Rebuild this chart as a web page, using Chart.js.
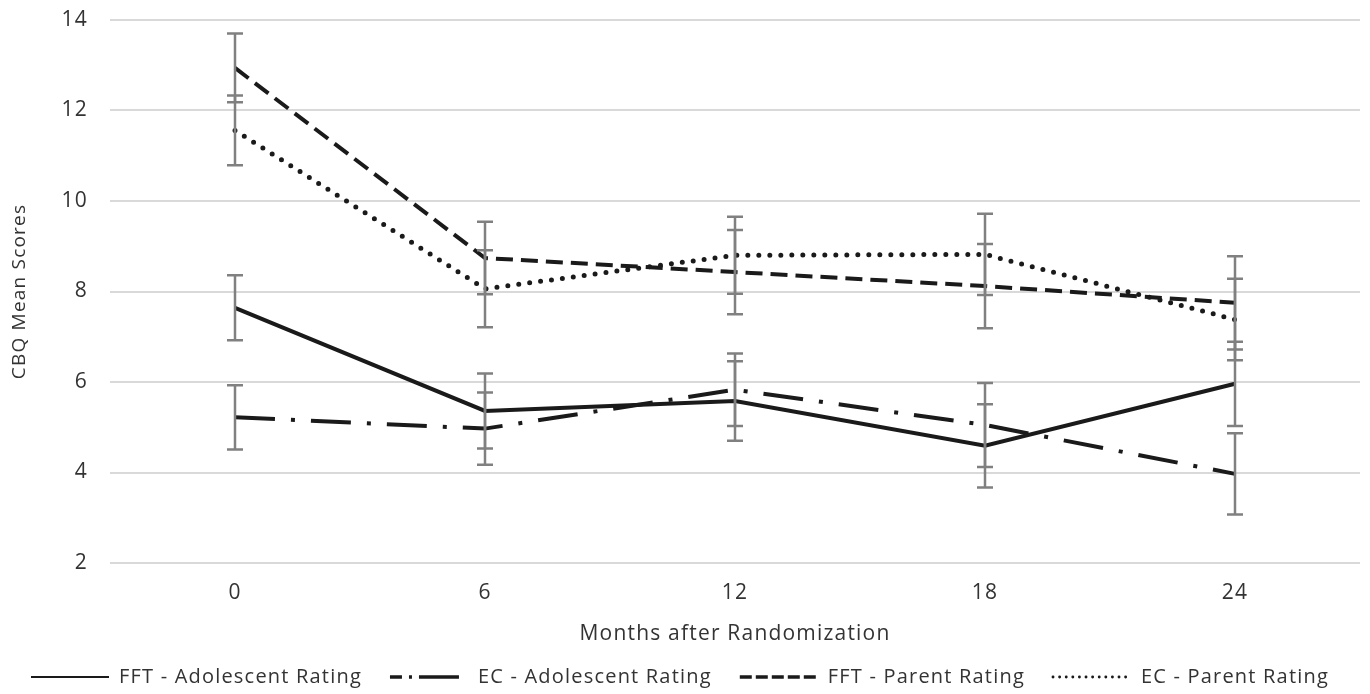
<!DOCTYPE html>
<html>
<head>
<meta charset="utf-8">
<script src="https://cdn.jsdelivr.net/npm/chart.js@4"></script>
<style>
  html, body { margin: 0; padding: 0; background: #fff; }
  #wrap { width: 1370px; height: 694px; }
</style>
</head>
<body>
<div id="wrap"><canvas id="cbqChart" width="1370" height="694"></canvas></div>
<script>
// months after randomization
var months = ['0', '6', '12', '18', '24'];

// mean scores
var fftAdol = [7.64, 5.36, 5.58, 4.59, 5.96];
var ecAdol = [5.22, 4.97, 5.83, 5.05, 3.97];
var fftParent = [12.94, 8.74, 8.43, 8.12, 7.75];
var ecParent = [11.56, 8.06, 8.80, 8.82, 7.38];

// error bar half heights
var fftAdolErr = [0.72, 0.83, 0.88, 0.92, 0.93];
var ecAdolErr = [0.71, 0.80, 0.80, 0.93, 0.90];
var fftParentErr = [0.76, 0.80, 0.93, 0.93, 1.03];
var ecParentErr = [0.77, 0.85, 0.85, 0.90, 0.90];

var yTicks = [2, 4, 6, 8, 10, 12, 14];

var textCol = '#333333';
var fontFam = '"Open Sans", "Noto Sans", sans-serif';

// the original lettering is widely spaced, canvas loses this on resize so set it every time
var spacing = {
  id: 'spacing',
  beforeLayout: function(chart) { chart.ctx.letterSpacing = '1.2px'; },
  beforeDraw: function(chart) { chart.ctx.letterSpacing = '1.2px'; }
};

// draws the grey whiskers on every point
var errorBars = {
  id: 'errorBars',
  afterDatasetsDraw: function(chart) {
    var ctx = chart.ctx;
    var yScale = chart.scales.y;
    ctx.save();
    ctx.strokeStyle = '#808080';
    ctx.lineWidth = 2.5;
    ctx.setLineDash([]);
    chart.data.datasets.forEach(function(ds, i) {
      var meta = chart.getDatasetMeta(i);
      meta.data.forEach(function(pt, j) {
        var v = ds.data[j];
        var e = ds.errs[j];
        var top = yScale.getPixelForValue(v + e);
        var bot = yScale.getPixelForValue(v - e);
        ctx.beginPath();
        ctx.moveTo(pt.x, top);
        ctx.lineTo(pt.x, bot);
        ctx.moveTo(pt.x - 8, top);
        ctx.lineTo(pt.x + 8, top);
        ctx.moveTo(pt.x - 8, bot);
        ctx.lineTo(pt.x + 8, bot);
        ctx.stroke();
      });
    });
    ctx.restore();
  }
};

var ctx = document.getElementById('cbqChart').getContext('2d');
var chart = new Chart(ctx, {
  type: 'line',
  data: {
    labels: months,
    datasets: [
      {
        label: 'FFT - Adolescent Rating',
        data: fftAdol,
        errs: fftAdolErr,
        borderColor: '#1a1a1a',
        borderWidth: 4,
        borderDash: [],
        pointRadius: 0
      },
      {
        label: 'EC - Adolescent Rating',
        data: ecAdol,
        errs: ecAdolErr,
        borderColor: '#1a1a1a',
        borderWidth: 4,
        borderDash: [40, 16, 4, 16],
        pointRadius: 0
      },
      {
        label: 'FFT - Parent Rating',
        data: fftParent,
        errs: fftParentErr,
        borderColor: '#1a1a1a',
        borderWidth: 4,
        borderDash: [17, 8],
        pointRadius: 0
      },
      {
        label: 'EC - Parent Rating',
        data: ecParent,
        errs: ecParentErr,
        borderColor: '#1a1a1a',
        borderWidth: 5,
        borderDash: [0, 11],
        borderCapStyle: 'round',
        pointRadius: 0
      }
    ]
  },
  options: {
    responsive: false,
    animation: false,
    layout: { padding: { left: 0, right: 10, top: 20, bottom: -3 } },
    plugins: {
      legend: {
        position: 'bottom',
        labels: {
          usePointStyle: true,
          pointStyle: 'line',
          pointStyleWidth: 78,
          color: textCol,
          padding: 28,
          font: { family: fontFam, size: 20 },
          generateLabels: function(ch) {
            var items = Chart.defaults.plugins.legend.labels.generateLabels(ch);
            items.forEach(function(it, k) {
              it.strokeStyle = '#1a1a1a';
              it.lineWidth = k === 0 ? 2 : 3.5;
              it.lineCap = 'butt';
              if (k === 0) it.lineDash = [];
              if (k === 1) it.lineDash = [12, 7, 3, 7, 40];
              if (k === 2) it.lineDash = [12, 4];
              if (k === 3) { it.lineDash = [0.1, 6.5]; it.lineWidth = 2.8; it.lineCap = 'round'; }
            });
            return items;
          }
        }
      },
      tooltip: { enabled: false }
    },
    scales: {
      x: {
        offset: true,
        afterFit: function(axis) {
          axis.height = 76;
          axis.paddingLeft = 0;
          axis.paddingRight = 0;
        },
        grid: { display: false },
        border: { display: false },
        ticks: { color: textCol, font: { family: fontFam, size: 21 }, padding: 9 },
        title: {
          display: true,
          text: 'Months after Randomization',
          color: textCol,
          font: { family: fontFam, size: 21 },
          padding: { top: 0, bottom: -8 }
        }
      },
      y: {
        min: 2,
        max: 14,
        afterBuildTicks: function(axis) {
          axis.ticks = yTicks.map(function(v) { return { value: v }; });
        },
        afterFit: function(axis) {
          axis.width = 110;
          axis.paddingTop = 0;
          axis.paddingBottom = 0;
        },
        grid: { color: '#d9d9d9', lineWidth: 2, drawTicks: false },
        border: { display: false },
        ticks: { color: textCol, font: { family: fontFam, size: 21 }, padding: 22 },
        title: {
          display: true,
          text: 'CBQ Mean Scores',
          color: textCol,
          font: { family: fontFam, size: 19 },
          padding: { top: 8, bottom: 0 }
        }
      }
    }
  },
  plugins: [spacing, errorBars]
});
</script>
</body>
</html>
